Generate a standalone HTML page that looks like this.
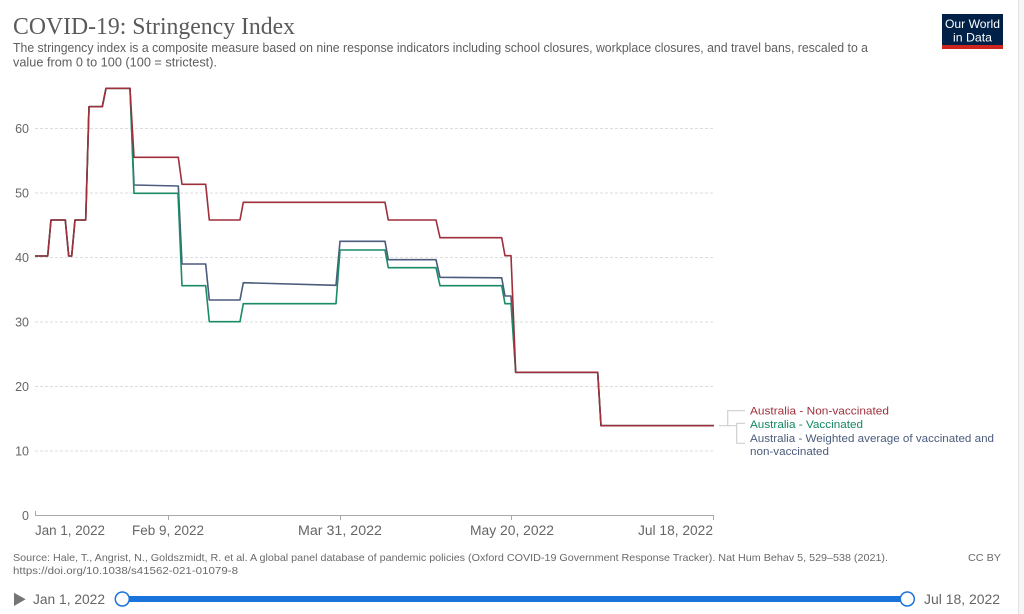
<!DOCTYPE html>
<html>
<head>
<meta charset="utf-8">
<style>
html,body{margin:0;padding:0;background:#fff;}
svg{display:block;}
text{font-family:"Liberation Sans",sans-serif;}
</style>
</head>
<body>
<svg width="1024" height="614" viewBox="0 0 1024 614" xmlns="http://www.w3.org/2000/svg">
<rect width="1024" height="614" fill="#fff"/>
<rect x="1018" y="0" width="6" height="614" fill="#f6f6f6"/>
<line x1="1018.5" y1="0" x2="1018.5" y2="614" stroke="#e2e2e2" stroke-width="1"/>

<!-- Title -->
<text x="13" y="34" font-family="Liberation Serif, serif" style="font-family:'Liberation Serif',serif" font-size="24" fill="#5a5a5a" textLength="282" lengthAdjust="spacingAndGlyphs">COVID-19: Stringency Index</text>
<text x="13" y="52" font-size="12.5" fill="#5e5e5e" textLength="855" lengthAdjust="spacingAndGlyphs">The stringency index is a composite measure based on nine response indicators including school closures, workplace closures, and travel bans, rescaled to a</text>
<text x="13" y="66.5" font-size="12.5" fill="#5e5e5e" textLength="204" lengthAdjust="spacingAndGlyphs">value from 0 to 100 (100 = strictest).</text>

<!-- Logo -->
<rect x="942" y="14" width="61" height="31" fill="#002147"/>
<rect x="942" y="45" width="61" height="4" fill="#ce261e"/>
<text x="972.5" y="28" font-size="12" fill="#fff" text-anchor="middle" textLength="55" lengthAdjust="spacingAndGlyphs">Our World</text>
<text x="972.5" y="41.5" font-size="12" fill="#fff" text-anchor="middle" textLength="39" lengthAdjust="spacingAndGlyphs">in Data</text>

<!-- Gridlines -->
<g stroke="#dcdcdc" stroke-width="1" stroke-dasharray="3,2">
<line x1="35" y1="128.5" x2="714" y2="128.5"/>
<line x1="35" y1="193" x2="714" y2="193"/>
<line x1="35" y1="257.5" x2="714" y2="257.5"/>
<line x1="35" y1="322" x2="714" y2="322"/>
<line x1="35" y1="386.5" x2="714" y2="386.5"/>
<line x1="35" y1="451" x2="714" y2="451"/>
</g>

<!-- Y labels -->
<g font-size="12.5" fill="#666" text-anchor="end">
<text x="29" y="133">60</text>
<text x="29" y="197.5">50</text>
<text x="29" y="262">40</text>
<text x="29" y="326.5">30</text>
<text x="29" y="391">20</text>
<text x="29" y="455.5">10</text>
<text x="29" y="520">0</text>
</g>

<!-- X axis -->
<g stroke="#a8a8a8" stroke-width="1" fill="none">
<line x1="35" y1="515.5" x2="714" y2="515.5"/>
<line x1="35.5" y1="511" x2="35.5" y2="515.5"/>
<line x1="168.5" y1="515.5" x2="168.5" y2="520"/>
<line x1="340.5" y1="515.5" x2="340.5" y2="520"/>
<line x1="511.5" y1="515.5" x2="511.5" y2="520"/>
<line x1="713.5" y1="515.5" x2="713.5" y2="520"/>
</g>
<g font-size="13.5" fill="#666">
<text x="35" y="535" textLength="70" lengthAdjust="spacingAndGlyphs">Jan 1, 2022</text>
<text x="168" y="535" text-anchor="middle" textLength="72" lengthAdjust="spacingAndGlyphs">Feb 9, 2022</text>
<text x="340" y="535" text-anchor="middle" textLength="84" lengthAdjust="spacingAndGlyphs">Mar 31, 2022</text>
<text x="512" y="535" text-anchor="middle" textLength="84" lengthAdjust="spacingAndGlyphs">May 20, 2022</text>
<text x="713" y="535" text-anchor="end" textLength="75" lengthAdjust="spacingAndGlyphs">Jul 18, 2022</text>
</g>

<!-- Series -->
<g fill="none" stroke-width="1.6" stroke-linejoin="round">
<polyline stroke="#4a5b7b" points="35,256 47.7,256 51,220 65.3,220 68.7,256 71.7,256 75,220 85.7,220 89,106.7 102.3,106.7 106,88.3 130,88.3 134,185 178.3,186 182,264 205.7,264 209.3,300 240,300 243.3,282.7 336,285.3 340,241.3 385,241.3 388.3,259.7 436,259.7 440,277.3 501.7,277.8 505,296 511,296 515.7,372.3 597.7,372.3 601,425.7 714,425.7"/>
<polyline stroke="#1a8a68" points="35,256 47.7,256 51,220 65.3,220 68.7,256 71.7,256 75,220 85.7,220 89,106.7 102.3,106.7 106,88.3 130,88.3 134,193.3 178,193.3 182,285.7 205.7,285.7 209.3,321.7 240,321.7 243.3,303.7 336,303.7 340,250 385,250 388.3,267.7 436,267.7 440,285.7 501.7,285.7 505,303.7 511,303.7 515.7,372.3 597.7,372.3 601,425.7 714,425.7"/>
<polyline stroke="#9e2f3b" points="35,256 47.7,256 51,220 65.3,220 68.7,256 71.7,256 75,220 85.7,220 89,106.7 102.3,106.7 106,88.3 130,88.3 134,157.3 178.3,157.3 182,184.3 205.7,184.3 209.3,220 240,220 243.3,202.3 385,202.3 388.3,220 436,220 440,237.7 501.7,237.7 505,255.7 511,255.7 515.7,372.3 597.7,372.3 601,425.7 714,425.7"/>
</g>

<!-- Legend connectors -->
<g stroke="#cfcfcf" stroke-width="1.2" fill="none">
<polyline points="719,425.7 736.7,425.7"/>
<polyline points="745,410.7 727.7,410.7 727.7,425.7"/>
<polyline points="745,423.3 736.7,423.3 736.7,443.3 745,443.3"/>
</g>
<g font-size="11">
<text x="750" y="414.5" fill="#9e2f3b" textLength="139" lengthAdjust="spacingAndGlyphs">Australia - Non-vaccinated</text>
<text x="750" y="428" fill="#11885f" textLength="113" lengthAdjust="spacingAndGlyphs">Australia - Vaccinated</text>
<text x="750" y="442" fill="#4a5b7b" textLength="244" lengthAdjust="spacingAndGlyphs">Australia - Weighted average of vaccinated and</text>
<text x="750" y="455" fill="#4a5b7b" textLength="79" lengthAdjust="spacingAndGlyphs">non-vaccinated</text>
</g>

<!-- Source -->
<g font-size="10.5" fill="#6a6a6a">
<text x="13" y="561" textLength="875" lengthAdjust="spacingAndGlyphs">Source: Hale, T., Angrist, N., Goldszmidt, R. et al. A global panel database of pandemic policies (Oxford COVID-19 Government Response Tracker). Nat Hum Behav 5, 529–538 (2021).</text>
<text x="13" y="574" textLength="225" lengthAdjust="spacingAndGlyphs">https://doi.org/10.1038/s41562-021-01079-8</text>
<text x="1001" y="561" text-anchor="end" textLength="33" lengthAdjust="spacingAndGlyphs">CC BY</text>
</g>

<!-- Timeline -->
<polygon points="14,592.7 25.7,599.3 14,606" fill="#757575"/>
<text x="33" y="604" font-size="13.5" fill="#666" textLength="72" lengthAdjust="spacingAndGlyphs">Jan 1, 2022</text>
<rect x="122" y="596" width="785" height="6" fill="#1a73db"/>
<circle cx="122.3" cy="599" r="7" fill="#fff" stroke="#1a73db" stroke-width="1.5"/>
<circle cx="907.3" cy="599" r="7" fill="#fff" stroke="#1a73db" stroke-width="1.5"/>
<text x="924" y="604" font-size="13.5" fill="#666" textLength="76" lengthAdjust="spacingAndGlyphs">Jul 18, 2022</text>
</svg>
</body>
</html>
